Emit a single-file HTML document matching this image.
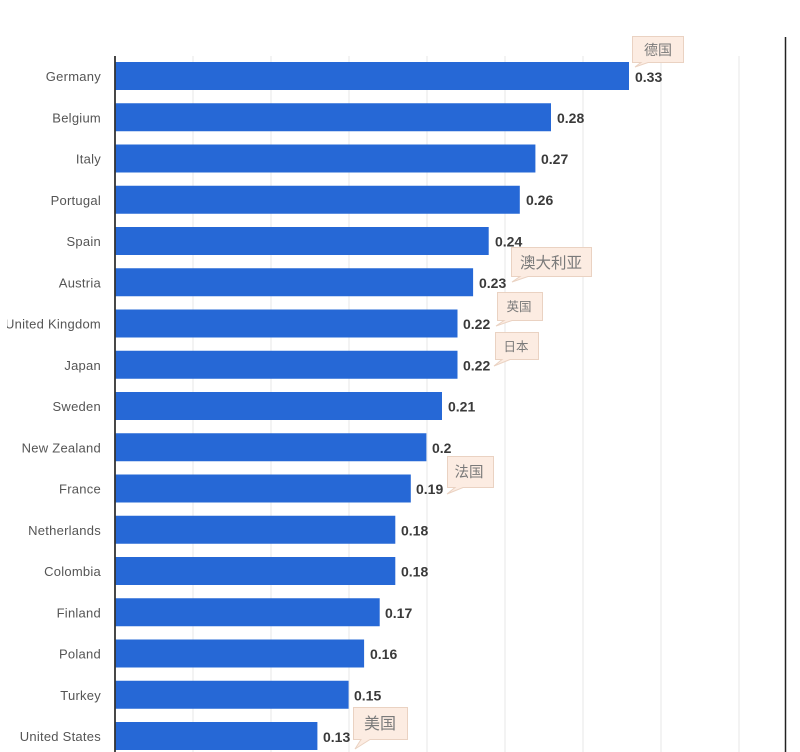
<!DOCTYPE html>
<html>
<head>
<meta charset="utf-8">
<style>
html,body{margin:0;padding:0;background:#fff;}
body{width:800px;height:752px;overflow:hidden;}
svg{display:block;}
.lbl{font-family:"Liberation Sans",sans-serif;font-size:13px;fill:#555;letter-spacing:0.25px;}
.val{font-family:"Liberation Sans",sans-serif;font-size:14px;font-weight:bold;fill:#3a3a3a;}
.cn{font-family:"Liberation Sans","Noto Sans CJK SC",sans-serif;fill:#7a7a7a;}
.box{fill:#fcece2;stroke:#ead2c2;stroke-width:1;}
</style>
</head>
<body>
<svg width="800" height="752" viewBox="0 0 800 752" xmlns="http://www.w3.org/2000/svg">
  <defs>
    <clipPath id="lc"><rect x="7" y="0" width="100" height="752"/></clipPath>
  </defs>
  <g stroke="#efefef" stroke-width="1.5">
    <line x1="193" y1="56" x2="193" y2="752"/>
    <line x1="271" y1="56" x2="271" y2="752"/>
    <line x1="349" y1="56" x2="349" y2="752"/>
    <line x1="427" y1="56" x2="427" y2="752"/>
    <line x1="505" y1="56" x2="505" y2="752"/>
    <line x1="583" y1="56" x2="583" y2="752"/>
    <line x1="661" y1="56" x2="661" y2="752"/>
    <line x1="739" y1="56" x2="739" y2="752"/>
  </g>
  <line x1="785.5" y1="37" x2="785.5" y2="752" stroke="#222" stroke-width="1.5"/>

  <g fill="#2668d6">
    <rect x="115" y="62" width="514" height="28"/>
    <rect x="115" y="103.25" width="436" height="28"/>
    <rect x="115" y="144.5" width="420.4" height="28"/>
    <rect x="115" y="185.75" width="404.8" height="28"/>
    <rect x="115" y="227" width="373.7" height="28"/>
    <rect x="115" y="268.25" width="358.1" height="28"/>
    <rect x="115" y="309.5" width="342.5" height="28"/>
    <rect x="115" y="350.75" width="342.5" height="28"/>
    <rect x="115" y="392" width="327" height="28"/>
    <rect x="115" y="433.25" width="311.4" height="28"/>
    <rect x="115" y="474.5" width="295.8" height="28"/>
    <rect x="115" y="515.75" width="280.3" height="28"/>
    <rect x="115" y="557" width="280.3" height="28"/>
    <rect x="115" y="598.25" width="264.7" height="28"/>
    <rect x="115" y="639.5" width="249.1" height="28"/>
    <rect x="115" y="680.75" width="233.6" height="28"/>
    <rect x="115" y="722" width="202.4" height="28"/>
  </g>

  <line x1="115" y1="56" x2="115" y2="752" stroke="#333" stroke-width="1.8"/>

  <g class="lbl" text-anchor="end" clip-path="url(#lc)">
    <text x="101" y="81">Germany</text>
    <text x="101" y="122.25">Belgium</text>
    <text x="101" y="163.5">Italy</text>
    <text x="101" y="204.75">Portugal</text>
    <text x="101" y="246">Spain</text>
    <text x="101" y="287.25">Austria</text>
    <text x="101" y="328.5">United Kingdom</text>
    <text x="101" y="369.75">Japan</text>
    <text x="101" y="411">Sweden</text>
    <text x="101" y="452.25">New Zealand</text>
    <text x="101" y="493.5">France</text>
    <text x="101" y="534.75">Netherlands</text>
    <text x="101" y="576">Colombia</text>
    <text x="101" y="617.25">Finland</text>
    <text x="101" y="658.5">Poland</text>
    <text x="101" y="699.75">Turkey</text>
    <text x="101" y="741">United States</text>
  </g>

  <g class="val">
    <text x="635" y="82">0.33</text>
    <text x="557" y="123">0.28</text>
    <text x="541" y="164">0.27</text>
    <text x="526" y="205">0.26</text>
    <text x="495" y="246.5">0.24</text>
    <text x="479" y="288">0.23</text>
    <text x="463" y="329">0.22</text>
    <text x="463" y="370.5">0.22</text>
    <text x="448" y="411.5">0.21</text>
    <text x="432" y="453">0.2</text>
    <text x="416" y="494">0.19</text>
    <text x="401" y="535.5">0.18</text>
    <text x="401" y="576.5">0.18</text>
    <text x="385" y="618">0.17</text>
    <text x="370" y="659">0.16</text>
    <text x="354" y="700.5">0.15</text>
    <text x="323" y="742">0.13</text>
  </g>

  <g>
    <path class="box" d="M632.5,36.5 H683.5 V62.5 H648 L635,67 L641,62.5 H632.5 Z"/>
    <text class="cn" x="658" y="55" font-size="14" text-anchor="middle">德国</text>

    <path class="box" d="M511.5,247.5 H591.5 V276.5 H528 L512,282 L520,276.5 H511.5 Z"/>
    <text class="cn" x="551" y="268" font-size="15.5" text-anchor="middle">澳大利亚</text>

    <path class="box" d="M497.5,292.5 H542.5 V320.5 H512 L496,326 L504,320.5 H497.5 Z"/>
    <text class="cn" x="519" y="311" font-size="12.5" text-anchor="middle">英国</text>

    <path class="box" d="M495.5,332.5 H538.5 V359.5 H510 L494,366 L502,359.5 H495.5 Z"/>
    <text class="cn" x="516" y="351" font-size="12.5" text-anchor="middle">日本</text>

    <path class="box" d="M447.5,456.5 H493.5 V487.5 H463 L447,494 L455,487.5 H447.5 Z"/>
    <text class="cn" x="469" y="477" font-size="14.5" text-anchor="middle">法国</text>

    <path class="box" d="M353.5,707.5 H407.5 V739.5 H370 L355,749 L361,739.5 H353.5 Z"/>
    <text class="cn" x="380" y="729" font-size="16" text-anchor="middle">美国</text>
  </g>
</svg>
</body>
</html>
